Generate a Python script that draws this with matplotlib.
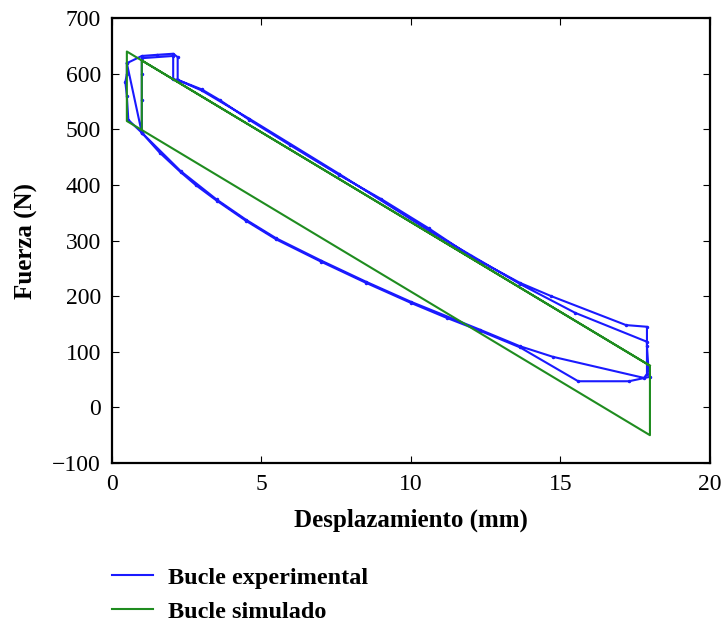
import matplotlib
matplotlib.use("Agg")
import matplotlib.pyplot as plt

# experimental loop (two cycles)
exp_x = [0.5, 1.0, 1.5, 2.05, 2.2, 2.2, 3.0, 3.6, 4.6, 5.95, 7.6, 9.0, 10.6, 12.0,
         13.65, 14.7, 17.2, 17.9, 17.9, 17.95, 18.0, 17.3, 15.6, 13.65, 12.3, 11.2,
         10.0, 8.5, 7.0, 5.5, 4.5, 3.5, 2.8, 2.3, 1.6, 1.0, 0.55, 0.5, 0.45, 0.5, 0.5,
         1.0, 1.0, 1.0, 1.0, 2.05, 2.05, 2.2, 3.0, 4.6, 7.6, 10.6, 13.65, 15.5, 17.9,
         17.9, 17.8, 14.75, 13.65, 12.3, 10.0, 8.5, 7.0, 5.5, 4.5, 3.5, 2.3, 1.0]
exp_y = [619, 632, 634, 636, 630, 589, 572, 553, 517, 472, 418, 375, 322, 272,
         224, 200, 148, 145, 110, 70, 55, 47, 47, 108, 138, 161,
         188, 224, 262, 302, 335, 372, 400, 423, 458, 494, 517, 560, 585, 600, 619,
         494, 553, 600, 628, 632, 590, 589, 570, 519, 420, 318, 222, 170, 118,
         60, 53, 91, 110, 140, 190, 226, 264, 304, 337, 374, 425, 494]

# simulated loop
sim_x = [1.0, 1.0, 18.0, 18.0, 0.5, 0.5, 18.0]
sim_y = [499, 624, 75, -50, 515, 640, 75]

plt.rcParams['font.family'] = ['Liberation Serif', 'DejaVu Serif']

fig = plt.figure(figsize=(7.22, 6.26), dpi=100)
ax = fig.add_axes([0.155, 0.2604, 0.828, 0.7106])

blue = "#1a1aff"
green = "#1f8c1f"
ax.plot(exp_x, exp_y, color=blue, lw=1.5, label="Bucle experimental")
ax.plot(exp_x, exp_y, ".", color=blue, ms=3)
ax.plot(sim_x, sim_y, color=green, lw=1.5, label="Bucle simulado")

ax.set_xlim(0, 20)
ax.set_ylim(-100, 700)
ax.set_xticks([0, 5, 10, 15, 20])
ax.set_yticks(range(-100, 701, 100))
ax.tick_params(direction="in", top=True, right=True, labelsize=17, length=5, pad=8)
for s in ax.spines.values():
    s.set_linewidth(1.6)

ax.set_xlabel("Desplazamiento (mm)", fontsize=18, fontweight="bold", labelpad=10)
ax.set_ylabel("Fuerza (N)", fontsize=18, fontweight="bold", labelpad=10)

fig.legend(loc="upper left", bbox_to_anchor=(0.155, 0.095), frameon=False,
           prop={"size": 17.5, "weight": "bold"}, handlelength=1.7,
           handletextpad=0.6, labelspacing=0.5, borderpad=0, borderaxespad=0)

fig.savefig("out.png", dpi=100)
